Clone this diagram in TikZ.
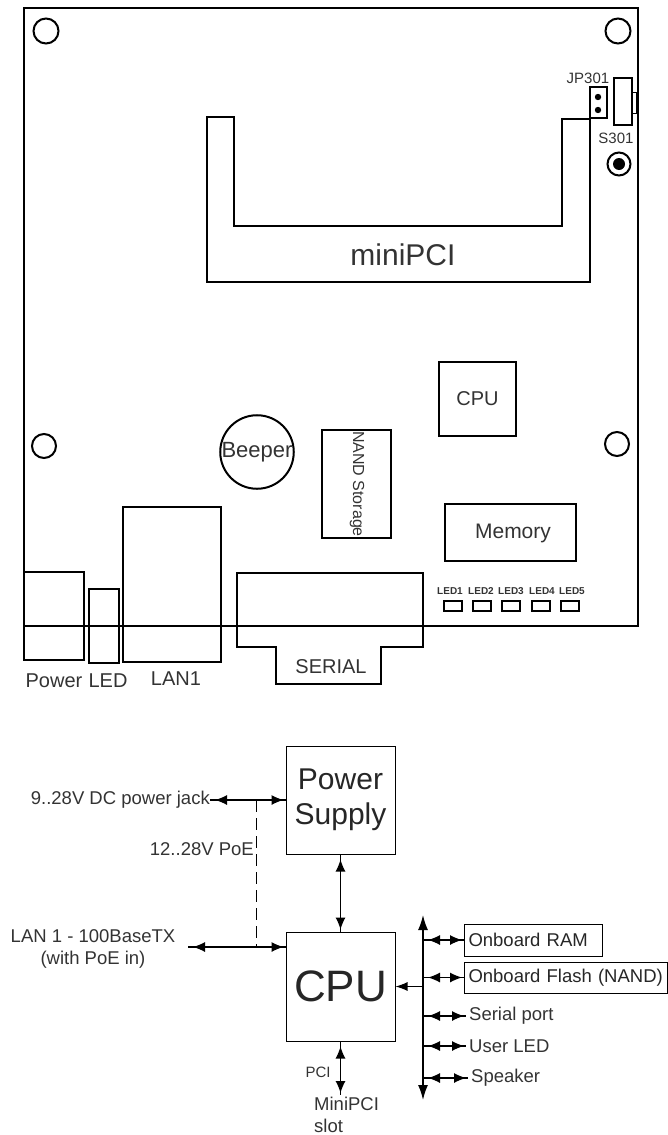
\documentclass[tikz,border=0pt]{standalone}
\usepackage{fontspec}
\setmainfont{Liberation Sans}
\usetikzlibrary{arrows.meta,decorations.markings}
\tikzset{
  part/.style={draw,line width=2pt,inner sep=0pt,text=black!80},
  block/.style={draw,line width=1pt,inner sep=0pt,text=black!85},
  tag/.style={inner sep=0pt,text=black!80},
  sz/.style={font=\fontsize{#1}{#1}\selectfont},
  wire/.style={line width=1.1pt},
  link/.style={wire,postaction={decorate},decoration={markings,
    mark=at position 5pt with {\arrowreversed{Latex[length=12pt,width=10pt]}},
    mark=at position 1 with {\arrow{Latex[length=12pt,width=10pt,sep=2pt]}}}}
}
\begin{document}
\begin{tikzpicture}[x=1pt,y=-1pt]
  \useasboundingbox (0,0) rectangle (667,1135);
  \draw[part] (24,8) rectangle (638,626);
  \foreach \hx/\hy/\hr in {46/31/12.5, 618/31/12.5, 44/446/12, 617/444/12}
    \draw[part] (\hx,\hy) circle (\hr);
  \draw[part] (590,87) rectangle (607,118);
  \fill (598,97) circle (3.2);
  \fill (598,110) circle (3.2);
  \draw[part] (614,78) rectangle (632,125);
  \draw[part,line width=1pt] (632,92) rectangle (636,113);
  \draw[part] (619,164) circle (11.5);
  \fill (619,164) circle (6);
  \node[tag,sz=15] (jp301) at (588,78) {JP301};
  \node[tag,sz=15] (s301) at (616,138) {S301};
  \draw[part] (207,117) -- (234,117) -- (234,226) -- (562,226) -- (562,119)
    -- (590,119) -- (590,282) -- (207,282) -- cycle;
  \node[tag,sz=30] (minipci) at (403,255) {miniPCI};
  \node[part,sz=20,minimum width=77pt,minimum height=74pt] (cpuchip) at (477.5,399) {CPU};
  \node[part,sz=16,minimum width=69pt,minimum height=108pt] (nand) at (356.5,484) {};
  \node[tag,sz=16,rotate=-90] (nandtext) at (357,484) {NAND Storage};
  \node[part,circle,sz=22,minimum size=72pt] (beeper) at (257,452) {Beeper};
  \node[part,sz=21,minimum width=131pt,minimum height=57pt] (memory) at (510.5,532.5) {};
  \node[tag,sz=21] (memtext) at (513,533) {Memory};
  \foreach \n/\lx/\tx in {1/444/450, 2/473/481, 3/502/511, 4/532/542, 5/561/572}{
    \draw[part] (\lx,601) rectangle +(18,10);
    \node[tag,font=\bfseries\fontsize{10}{12}\selectfont] (led\n) at (\tx,591) {LED\n};
  }
  \draw[part] (24,572) rectangle (84,660);
  \draw[part] (89,589) rectangle (119,663);
  \draw[part] (123,507) rectangle (221,662);
  \draw[part] (237,573) -- (423,573) -- (423,647) -- (381,647) -- (381,684)
    -- (276,684) -- (276,647) -- (237,647) -- cycle;
  \node[tag,sz=20] (power) at (54,681) {Power};
  \node[tag,sz=20] (ledjack) at (108,681) {LED};
  \node[tag,sz=20] (lan1) at (176,679) {LAN1};
  \node[tag,sz=20] (serial) at (331,667) {SERIAL};

  \node[block,minimum width=109pt,minimum height=108pt,align=center,
    font=\fontsize{30}{35}\selectfont] (psu) at (340.5,800) {Power\\Supply};
  \node[block,sz=44,minimum width=109pt,minimum height=109pt] (cpu) at (340.5,986.5) {CPU};
  \node[tag,sz=18.5,anchor=east] (jack) at (210,800) {9..28V DC power jack};
  \node[tag,sz=18.5,anchor=east] (poe) at (254,849) {12..28V PoE};
  \node[tag,align=center,font=\fontsize{18.5}{22}\selectfont] (lan) at (93,949) {LAN 1 - 100BaseTX\\(with PoE in)};
  \node[tag,sz=15] (pci) at (318,1072) {PCI};
  \node[tag,align=left,anchor=north west,font=\fontsize{18.5}{22}\selectfont] (slot) at (314,1097) {MiniPCI\\slot};
  \coordinate (lanend) at (188,947);
  \coordinate (poetop) at (256,800);
  \coordinate (poebot) at (256,947);
  \coordinate (bustop) at (423,915);
  \coordinate (busbot) at (423,1100);
  \draw[link] (jack.east) -- (psu.west);
  \draw[link] (lanend) -- (cpu.west |- lanend);
  \draw[line width=0.8pt,dash pattern=on 12pt off 6pt] (poetop) -- (poebot);
  \draw[link] (psu.south) -- (cpu.north);
  \draw[link] (cpu.south) -- (340.5,1095);
  \draw[wire,line width=1.5pt,{Latex[length=15pt,width=10pt]}-{Latex[length=15pt,width=10pt]}] (bustop) -- (busbot);
  \draw[wire,-{Latex[length=12pt,width=9pt]}] (bustop |- cpu.east) -- (cpu.east);

  \node[block,sz=18.5,anchor=west,minimum height=32pt,text width=130pt,align=left,inner xsep=4pt] (ram) at (464,940) {Onboard RAM};
  \node[block,sz=18.5,anchor=west,minimum height=31pt,text width=195pt,align=left,inner xsep=4pt] (flash) at (464,977.5) {Onboard Flash (NAND)};
  \node[tag,sz=18.5,anchor=west] (port) at (469,1016) {Serial port};
  \node[tag,sz=18.5,anchor=west] (userled) at (469,1046) {User LED};
  \node[tag,sz=18.5,anchor=west] (speaker) at (471,1078) {Speaker};
  \draw[link] (bustop |- ram.west) -- (ram.west);
  \draw[link] (bustop |- flash.west) -- (flash.west);
  \foreach \t in {port,userled,speaker}
    \draw[link] (bustop |- \t.west) -- ([xshift=-3pt]\t.west);
\end{tikzpicture}
\end{document}
